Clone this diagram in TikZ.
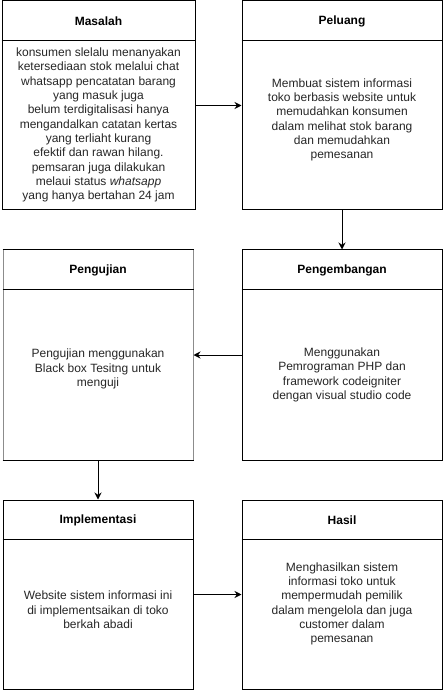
\documentclass[tikz,border=0pt]{standalone}
\usepackage{fontspec}
\setmainfont{Liberation Sans}
\usetikzlibrary{arrows.meta,positioning}

\tikzset{
  stage/.style={draw=black, line width=1pt, rectangle, inner sep=0pt},
  stagetitle/.style={font=\bfseries\fontsize{12}{14.4}\selectfont, inner sep=0pt},
  stagetext/.style={font=\fontsize{12}{14.3}\selectfont, align=center, inner sep=0pt, text=black!85},
  flow/.style={-{Stealth[length=7pt,width=7pt]}, line width=1pt}
}

\begin{document}
\begin{tikzpicture}[x=1pt, y=-1pt]
    % Page frame
    \useasboundingbox (0,0) rectangle (443,692);

    % Stage boxes
    \node[stage, minimum width=193pt, minimum height=209pt] (masalah) at (98.5,105.5) {};
    \node[stage, minimum width=200pt, minimum height=209pt] (peluang) at (342,105.5) {};
    \node[stage, draw=gray!90, minimum width=190pt, minimum height=210pt] (pengujian) at (98,355) {};
    \node[stage, minimum width=200pt, minimum height=210pt] (pengembangan) at (342,355) {};
    \node[stage, minimum width=190pt, minimum height=189pt] (implementasi) at (98,594.5) {};
    \node[stage, minimum width=200pt, minimum height=189pt] (hasil) at (342,594.5) {};

    % Top and bottom edges of the grey box
    \draw[line width=1pt] (pengujian.north west) -- (pengujian.north east);
    \draw[line width=1pt] (pengujian.south west) -- (pengujian.south east);

    % Header dividers
    \foreach \b in {masalah, peluang, pengujian, pengembangan, implementasi, hasil}
        \draw[line width=1pt] ([yshift=-40pt]\b.north west) -- ([yshift=-40pt]\b.north east);

    % Titles
    \node[stagetitle] (masalahtitle) at (98.5,21) {Masalah};
    \node[stagetitle] (peluangtitle) at (342,21) {Peluang};
    \node[stagetitle] (pengujiantitle) at (98,270) {Pengujian};
    \node[stagetitle] (pengembangantitle) at (342,270) {Pengembangan};
    \node[stagetitle] (implementasititle) at (98,520) {Implementasi};
    \node[stagetitle] (hasiltitle) at (342,520) {Hasil};

    % Body texts
    \node[stagetext] (masalahtext) at (98.5,125) {konsumen slelalu menanyakan\\ketersediaan stok melalui chat\\whatsapp pencatatan barang\\yang masuk juga\\belum terdigitalisasi hanya\\mengandalkan catatan kertas\\yang terliaht kurang\\efektif dan rawan hilang.\\pemsaran juga dilakukan\\melaui status \textit{whatsapp}\\yang hanya bertahan 24 jam};
    \node[stagetext] (peluangtext) at (342,120) {Membuat sistem informasi\\toko berbasis website untuk\\memudahkan konsumen\\dalam melihat stok barang\\dan memudahkan\\pemesanan};
    \node[stagetext] (pengujiantext) at (98,369) {Pengujian menggunakan\\Black box Tesitng untuk\\menguji};
    \node[stagetext] (pengembangantext) at (342,375) {Menggunakan\\Pemrograman PHP dan\\framework codeigniter\\dengan visual studio code};
    \node[stagetext] (implementasitext) at (98,610) {Website sistem informasi ini\\di implementsaikan di toko\\berkah abadi};
    \node[stagetext] (hasiltext) at (342,604) {Menghasilkan sistem\\informasi toko untuk\\mempermudah pemilik\\dalam mengelola dan juga\\customer dalam\\pemesanan};

    % Flow between stages
    \draw[flow] (masalah.east) -- (peluang.west);
    \draw[flow] (peluang.south) -- (pengembangan.north);
    \draw[flow] (pengembangan.west) -- (pengujian.east);
    \draw[flow] (pengujian.south) -- (implementasi.north);
    \draw[flow] (implementasi.east) -- (hasil.west);
\end{tikzpicture}
\end{document}
